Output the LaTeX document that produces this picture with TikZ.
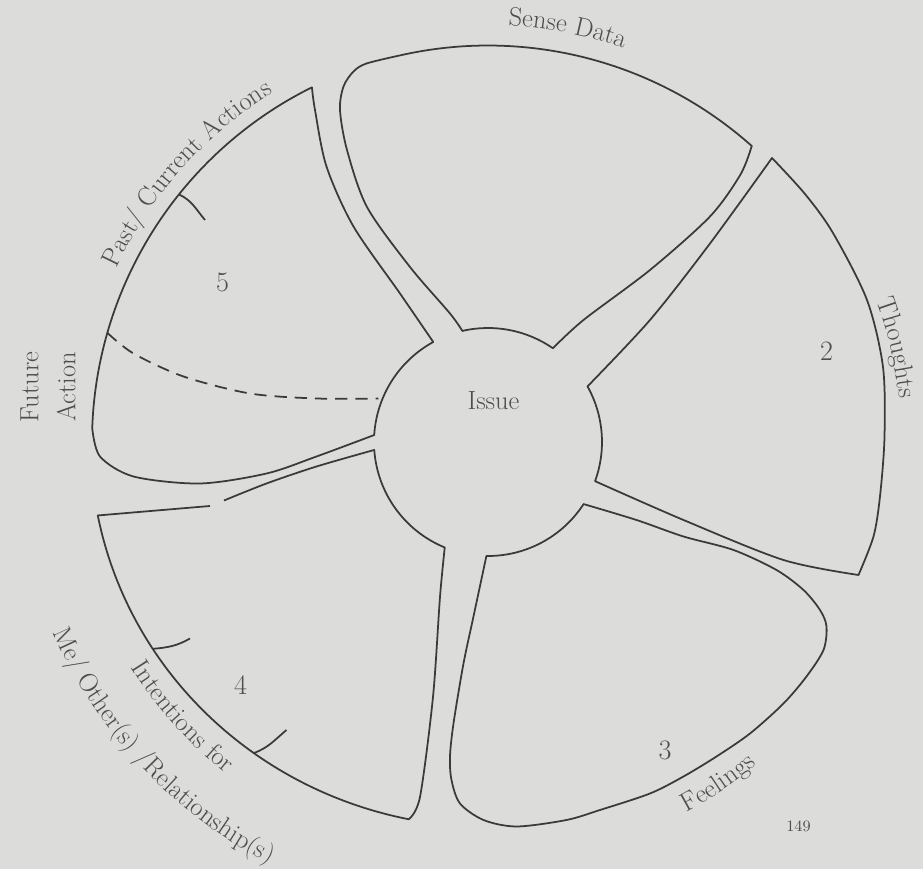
\documentclass[tikz,border=0pt]{standalone}
\usepackage{tikz}
\usetikzlibrary{decorations.text}
\definecolor{PaperGrey}{HTML}{DCDCDA}
\definecolor{InkGrey}{HTML}{3A3A3A}
\definecolor{TextGrey}{HTML}{4E4E4E}
\newcommand\lblfont{\fontsize{15}{18}\selectfont}

\begin{document}
\begin{tikzpicture}[x=1cm,y=1cm,
    petal/.style={draw=InkGrey,line width=1pt,line join=round},
    tickline/.style={draw=InkGrey,line width=1pt},
    num/.style={font=\fontsize{16}{18}\selectfont,text=TextGrey},
    lbl/.style={font=\lblfont,text=TextGrey},
    arclbl/.style={decorate,decoration={text along path,text align=center,text color=TextGrey,text={|\lblfont|#1}}}]
  \useasboundingbox (-9.76,-8.54) rectangle (8.70,8.84);
  \fill[PaperGrey] (-9.76,-8.54) rectangle (8.70,8.84);

  \draw[petal] (103:2.28) -- plot[smooth] coordinates {(103:2.28) (-0.76,2.57) (-1.56,3.50) (-2.42,4.70) (-2.82,5.84) (-2.96,6.64) (-2.89,7.11) (-2.69,7.41) (-2.43,7.57) (102.8:7.93)}
    arc[start angle=102.8,end angle=48.3,radius=7.93]
    -- plot[smooth] coordinates {(48.3:7.93) (5.05,5.35) (4.44,4.51) (3.24,3.44) (1.91,2.44) (55.3:2.28)}
    arc[start angle=55.3,end angle=103,radius=2.28] -- cycle;

  \draw[petal] (29.2:2.28) -- plot[smooth] coordinates {(29.2:2.28) (3.24,2.44) (4.44,3.97) (5.68,5.68)}
    -- plot[smooth] coordinates {(5.68,5.68) (6.34,4.96) (6.90,4.18) (7.58,2.84) (7.90,1.50) (7.93,0.10) (7.84,-1.09) (7.71,-1.89) (7.41,-2.66)}
    -- plot[smooth] coordinates {(7.41,-2.66) (5.91,-2.36) (3.91,-1.56) (-20.1:2.28)}
    arc[start angle=-20.1,end angle=29.2,radius=2.28] -- cycle;

  \draw[petal] (-33:2.28) -- plot[smooth] coordinates {(-33:2.28) (2.97,-1.56) (3.91,-1.89) (4.91,-2.16) (5.77,-2.56) (6.31,-2.96) (6.64,-3.36) (6.77,-3.69) (6.71,-4.16) (6.37,-4.69) (5.91,-5.23) (5.24,-5.83) (4.57,-6.29) (3.91,-6.69) (3.24,-7.03) (2.24,-7.36) (1.57,-7.56) (0.57,-7.69) (-0.09,-7.56) (-0.56,-7.23) (-0.73,-6.76) (-0.76,-6.29) (-0.69,-5.63) (-0.49,-4.43) (-0.29,-3.49) (-90.8:2.28)}
    arc[start angle=-90.8,end angle=-33,radius=2.28] -- cycle;

  \draw[petal] (-5.56,-1.28) -- (191:7.95cm and 7.7cm)
    arc[start angle=191,end angle=258.5,x radius=7.95,y radius=7.7]
    -- plot[smooth] coordinates {(258.5:7.95cm and 7.7cm) (-1.36,-7.10) (-1.10,-5.10) (-0.96,-3.10) (247.7:2.28)}
    arc[start angle=247.7,end angle=184,radius=2.28]
    -- plot[smooth] coordinates {(184:2.28) (-3.43,-0.49) (-4.43,-0.83) (-5.28,-1.17)};

  \draw[petal] (118.7:2.28) -- plot[smooth] coordinates {(118.7:2.28) (-1.76,2.97) (-2.69,4.31) (-3.23,5.51) (-3.46,6.64) (116.4:7.92)}
    arc[start angle=116.4,end angle=178,radius=7.92]
    -- plot[smooth] coordinates {(178:7.92) (-7.76,-0.29) (-7.09,-0.69) (-5.76,-0.83) (-4.43,-0.63) (-3.43,-0.29) (176.5:2.28)}
    arc[start angle=176.5,end angle=118.7,radius=2.28] -- cycle;
  \draw[petal,dash pattern=on 7pt off 4.5pt] plot[smooth] coordinates {(164:7.92) (-7.09,1.77) (-6.09,1.31) (-4.76,0.97) (-3.43,0.87) (-2.19,0.87)};

  \draw[tickline] (141.3:7.92) to[out=-25,in=130] (-5.66,4.44);
  \draw[tickline] (212.5:7.95cm and 7.7cm) to[out=5,in=210] (-5.96,-3.93);
  \draw[tickline] (233.9:7.95cm and 7.7cm) to[out=20,in=220] (-4.03,-5.76);

  \node[lbl] (issue) at (0.11,0.82) {Issue};
  \node[num] (num2) at (6.77,1.81) {2};
  \node[num] (num3) at (3.54,-6.16) {3};
  \node[num] (num4) at (-4.95,-4.86) {4};
  \node[num] (num5) at (-5.31,3.19) {5};
  \node[lbl,rotate=90,align=center,font=\fontsize{15}{21}\selectfont] (future) at (-8.80,1.10) {Future\\Action};
  \node[font=\fontsize{9}{10}\selectfont,text=TextGrey] (pagemark) at (6.21,-7.69) {149};

  \path[arclbl={Sense Data}] (100:8.33) arc[start angle=100,end angle=58.2,radius=8.33];
  \path[arclbl={Past/ Current Actions}] (160:8.2) arc[start angle=160,end angle=116.6,radius=8.2];
  \path[arclbl={Thoughts}] (30:8.27) arc[start angle=30,end angle=-4.1,radius=8.27];
  \path[arclbl={Feelings}] (-70:8.4) arc[start angle=-70,end angle=-42,radius=8.4];
  \path[arclbl={Intentions for}] (205:8.45) arc[start angle=205,end angle=239,radius=8.45];
  \path[arclbl={Me/ Other(s) /Relationship(s)}] (198:9.5) arc[start angle=198,end angle=248.2,radius=9.5];
\end{tikzpicture}
\end{document}
